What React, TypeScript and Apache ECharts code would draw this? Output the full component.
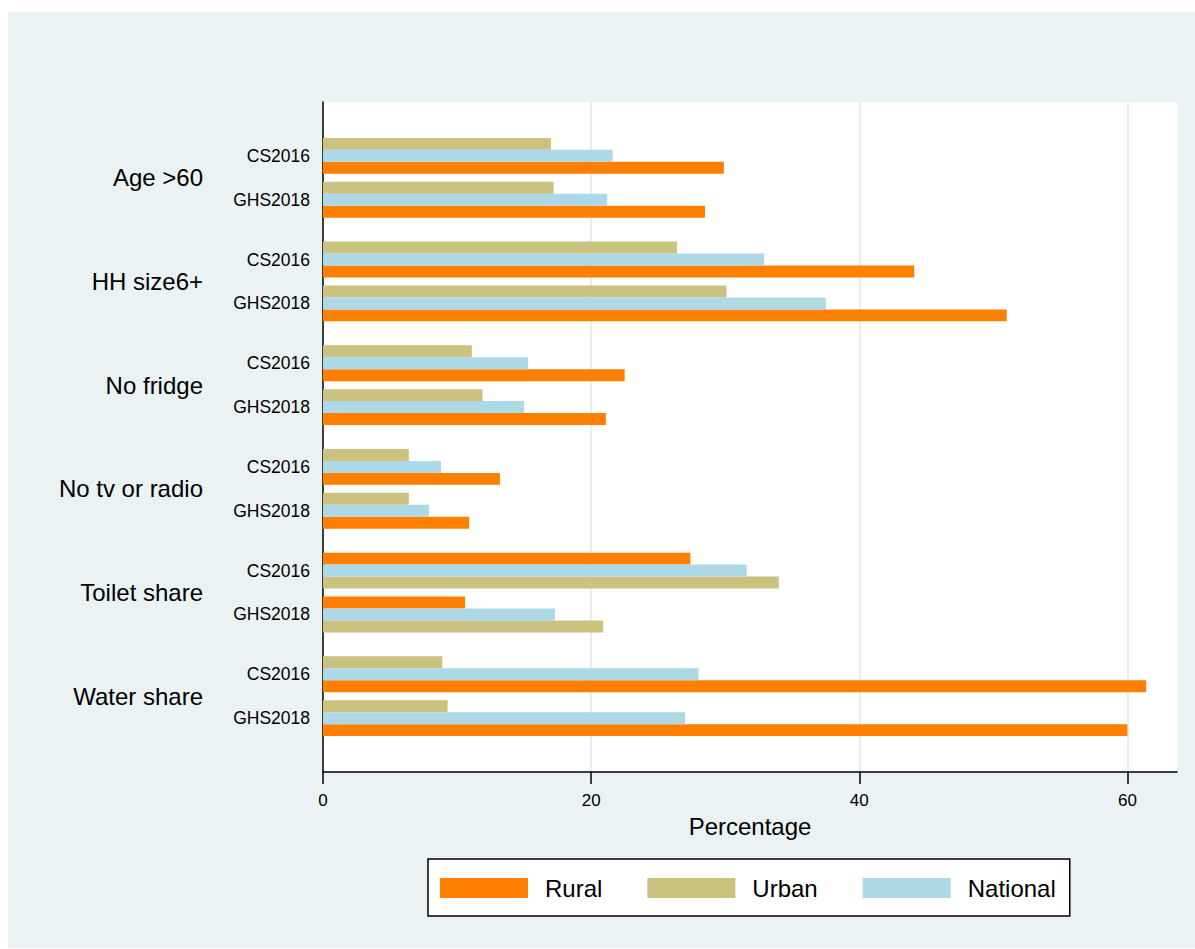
import React, { useEffect, useRef } from 'react';
import * as echarts from 'echarts';

// ---- data ----
const groups = ['Age >60', 'HH size6+', 'No fridge', 'No tv or radio', 'Toilet share', 'Water share'];
const waves = ['CS2016', 'GHS2018'];
const seriesNames = ['Rural', 'Urban', 'National'];
// rows: for each group, CS2016 then GHS2018
const rural = [29.9, 28.5, 44.1, 51.0, 22.5, 21.1, 13.2, 10.9, 27.4, 10.6, 61.4, 60.0];
const urban = [17.0, 17.2, 26.4, 30.1, 11.1, 11.9, 6.4, 6.4, 34.0, 20.9, 8.9, 9.3];
const national = [21.6, 21.2, 32.9, 37.5, 15.3, 15.0, 8.8, 7.9, 31.6, 17.3, 28.0, 27.0];
const xTicks = [0, 20, 40, 60];
const xMax = 63.7;

const colorMap: Record<string, string> = {
  Rural: '#FF7F00',
  Urban: '#CAC27E',
  National: '#ADD8E6',
};

// ---- layout in bar-thickness units ----
const PAD = 3;
const SUB_GAP = 0.667;
const GROUP_GAP = 2;
const GROUP_SPAN = 6 + SUB_GAP + GROUP_GAP;
const Y_MAX = 2 * PAD + groups.length * (6 + SUB_GAP) + (groups.length - 1) * GROUP_GAP;

const rowStart = (row: number) => {
  const g = Math.floor(row / 2);
  const w = row % 2;
  return PAD + g * GROUP_SPAN + w * (3 + SUB_GAP);
};

const valuesBySeries: Record<string, number[]> = { Rural: rural, Urban: urban, National: national };

// order bars within a row ascending by value (top to bottom)
const slotOf = (row: number, name: string) => {
  const vals = seriesNames.map((n) => ({ n, v: valuesBySeries[n][row] }));
  vals.sort((a, b) => a.v - b.v);
  return vals.findIndex((d) => d.n === name);
};

const FONT = '"Liberation Sans", Arial, Helvetica, sans-serif';

export default function App() {
  const ref = useRef<HTMLDivElement>(null);

  useEffect(() => {
    if (!ref.current) return;
    const chart = echarts.init(ref.current, undefined, { renderer: 'svg' });

    const rows = groups.length * waves.length;
    const subPos: number[] = [];
    const subLabelMap: Record<string, string> = {};
    for (let r = 0; r < rows; r++) {
      const p = rowStart(r) + 1.5;
      subPos.push(p);
      subLabelMap[p.toFixed(2)] = waves[r % 2];
    }
    const groupPos: number[] = [];
    const groupLabelMap: Record<string, string> = {};
    groups.forEach((gname, g) => {
      const p = PAD + g * GROUP_SPAN + (6 + SUB_GAP) / 2;
      groupPos.push(p);
      groupLabelMap[p.toFixed(2)] = gname;
    });

    const series = seriesNames.map((name) => ({
      name,
      type: 'custom',
      xAxisIndex: 0,
      yAxisIndex: 0,
      itemStyle: { color: colorMap[name] },
      encode: { x: 0, y: 1 },
      data: valuesBySeries[name].map((v, row) => [v, rowStart(row) + slotOf(row, name) + 0.5]),
      renderItem: (params: any, api: any) => {
        const v = api.value(0);
        const y = api.value(1);
        const p0 = api.coord([0, y]);
        const p1 = api.coord([v, y]);
        const h = api.size([0, 1])[1];
        return {
          type: 'rect',
          shape: { x: p0[0], y: p0[1] - h / 2, width: p1[0] - p0[0], height: h },
          style: { fill: colorMap[name] },
        };
      },
    }));

    chart.setOption({
      animation: false,
      backgroundColor: '#EAF2F3',
      textStyle: { fontFamily: FONT },
      grid: {
        left: 315,
        top: 90,
        width: 854,
        height: 670,
        show: true,
        backgroundColor: '#FFFFFF',
        borderWidth: 0,
      },
      xAxis: {
        type: 'value',
        min: 0,
        max: xMax,
        position: 'bottom',
        name: 'Percentage',
        nameLocation: 'middle',
        nameGap: 42,
        nameTextStyle: { fontSize: 24, color: '#000', fontFamily: FONT },
        axisLine: { show: true, onZero: false, lineStyle: { color: '#000', width: 1.5 } },
        axisTick: { show: true, length: 12, customValues: xTicks, lineStyle: { color: '#000', width: 1.5 } },
        axisLabel: { customValues: xTicks, fontSize: 17, color: '#000', margin: 20, fontFamily: FONT },
        splitLine: { show: true, lineStyle: { color: '#E6EFF0', width: 2 } },
      },
      yAxis: [
        {
          type: 'value',
          min: 0,
          max: Y_MAX,
          inverse: true,
          position: 'left',
          axisLine: { show: true, onZero: false, lineStyle: { color: '#000', width: 1.5 } },
          axisTick: { show: false, customValues: subPos },
          splitLine: { show: false },
          axisLabel: {
            customValues: subPos,
            fontSize: 17.5,
            color: '#000',
            margin: 13,
            fontFamily: FONT,
            formatter: (v: number) => subLabelMap[Number(v).toFixed(2)] ?? '',
          },
        },
        {
          type: 'value',
          min: 0,
          max: Y_MAX,
          inverse: true,
          position: 'left',
          axisLine: { show: false, onZero: false },
          axisTick: { show: false, customValues: groupPos },
          splitLine: { show: false },
          axisLabel: {
            customValues: groupPos,
            fontSize: 24,
            color: '#000',
            margin: 120,
            fontFamily: FONT,
            formatter: (v: number) => groupLabelMap[Number(v).toFixed(2)] ?? '',
          },
        },
      ],
      legend: {
        data: seriesNames,
        left: 420,
        top: 847,
        orient: 'horizontal',
        icon: 'rect',
        itemWidth: 88,
        itemHeight: 20,
        itemGap: 45,
        backgroundColor: '#FFFFFF',
        borderColor: '#000',
        borderWidth: 1.5,
        borderRadius: 0,
        padding: [17, 14, 16, 12],
        selectedMode: false,
        textStyle: { fontSize: 24, color: '#000', padding: [0, 0, 0, 12], lineHeight: 20, fontFamily: FONT },
      },
      series,
    });

    return () => chart.dispose();
  }, []);

  return (
    <div
      ref={ref}
      style={{ position: 'fixed', left: 8, top: 12, width: 1187, height: 936 }}
    />
  );
}
